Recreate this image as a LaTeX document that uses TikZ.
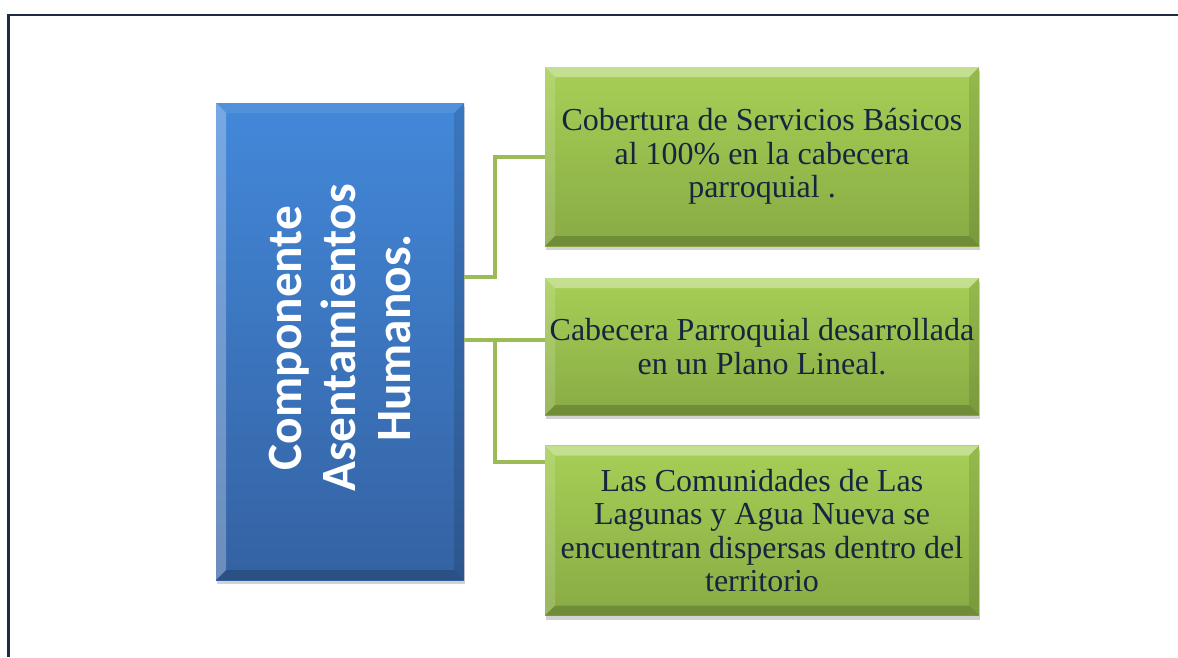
\documentclass[tikz,border=0pt]{standalone}
\usepackage{fontspec}
\setmainfont{Liberation Serif}
\newfontfamily\carlitofont{Carlito}
\usetikzlibrary{shadows}
\definecolor{framecol}{HTML}{1C2A44}
\definecolor{txtcol}{HTML}{17253F}
\definecolor{conncol}{HTML}{9BBB59}
\definecolor{gtop}{HTML}{A7CF56}
\definecolor{gbot}{HTML}{88AB44}
\definecolor{btop}{HTML}{4388DA}
\definecolor{bbot}{HTML}{3462A2}
\newcommand\bvlpieces[5]{%
  \fill[#1] (path picture bounding box.north west) -- (path picture bounding box.north east)
    -- ([shift={(-#5,-#5)}]path picture bounding box.north east)
    -- ([shift={(#5,-#5)}]path picture bounding box.north west) -- cycle;
  \fill[#2] (path picture bounding box.north west) -- ([shift={(#5,-#5)}]path picture bounding box.north west)
    -- ([shift={(#5,#5)}]path picture bounding box.south west)
    -- (path picture bounding box.south west) -- cycle;
  \fill[#3] (path picture bounding box.north east) -- (path picture bounding box.south east)
    -- ([shift={(-#5,#5)}]path picture bounding box.south east)
    -- ([shift={(-#5,-#5)}]path picture bounding box.north east) -- cycle;
  \fill[#4] (path picture bounding box.south west) -- ([shift={(#5,#5)}]path picture bounding box.south west)
    -- ([shift={(-#5,#5)}]path picture bounding box.south east)
    -- (path picture bounding box.south east) -- cycle;}
\tikzset{
  framestyle/.style={draw=framecol, line width=1.6pt},
  conn/.style={draw=conncol, line width=3pt},
  softshadow/.style={drop shadow={shadow xshift=1pt, shadow yshift=-3pt, opacity=0.25, fill=black!70}},
  greenbox/.style={softshadow, inner sep=0pt, minimum width=325.5pt, top color=gtop, bottom color=gbot,
    text=txtcol, align=center, font=\fontsize{24}{25}\selectfont,
    path picture={\bvlpieces{white,opacity=0.35}{white,opacity=0.15}{black,opacity=0.1}{black,opacity=0.18}{7.5pt}}},
  bluebox/.style={softshadow, inner sep=0pt, minimum width=186pt, minimum height=357.75pt, top color=btop, bottom color=bbot,
    path picture={\bvlpieces{white,opacity=0.08}{white,opacity=0.28}{black,opacity=0.12}{black,opacity=0.18}{7.5pt}}},
  bluetext/.style={text=white, rotate=90, align=center, font=\carlitofont\bfseries\fontsize{37}{41}\selectfont}
}
\begin{document}
\begin{tikzpicture}[x=0.75pt,y=-0.75pt]
\useasboundingbox (0,0) rectangle (1178,657);
\fill[white] (0,0) rectangle (1178,657);
\draw[framestyle] (8.5,657) -- (8.5,15) -- (1178,15);

\node[bluebox] (b) at (340,341.5) {};
\node[bluetext] (btext) at (340,338) {Componente\\Asentamientos\\Humanos.};

\node[greenbox, minimum height=134.25pt] (g1) at (762,156.5) {Cobertura de Servicios Básicos\\al 100\% en la cabecera\\parroquial .};
\node[greenbox, minimum height=102.75pt] (g2) at (762,346.5) {Cabecera Parroquial desarrollada\\en un Plano Lineal.};
\node[greenbox, minimum height=127.5pt] (g3) at (762,530.5) {Las Comunidades de Las\\Lagunas y Agua Nueva se\\encuentran dispersas dentro del\\territorio};

\coordinate (j1) at (495,277);
\coordinate (j2) at (495,340);
\draw[conn] (b.east |- j1) -- (j1) -- (495,157) -- (g1.west |- 0,157);
\draw[conn] (b.east |- j2) -- (g2.west |- j2);
\draw[conn] (j2) -- (495,462) -- (g3.west |- 0,462);
\end{tikzpicture}
\end{document}
